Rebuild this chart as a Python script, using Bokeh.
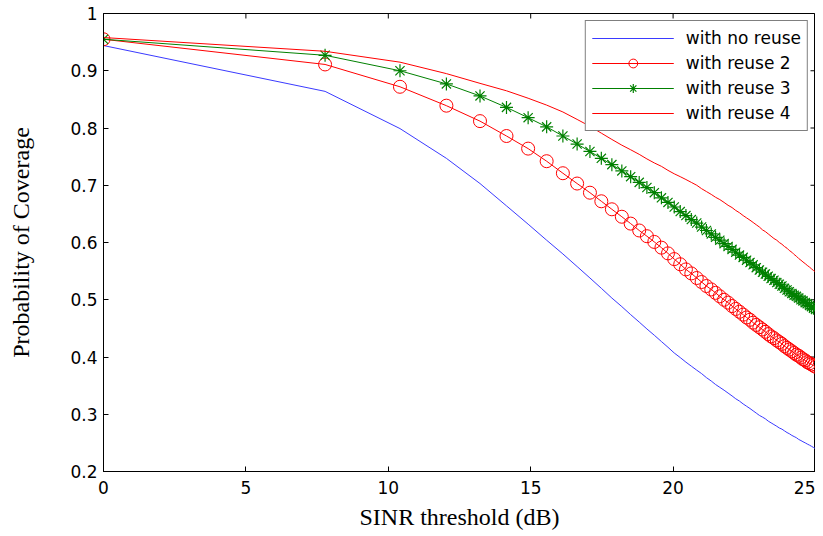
import math
from bokeh.plotting import figure
from bokeh.models import FixedTicker, Range1d, Legend, LegendItem
from bokeh.embed import file_html
from bokeh.resources import INLINE

# SINR threshold samples (dB)
sinr_db = [0.00, 7.78, 10.41, 12.04, 13.22, 14.15, 14.91, 15.56, 16.13, 16.63,
           17.08, 17.48, 17.85, 18.20, 18.51, 18.81, 19.08, 19.34, 19.59, 19.82,
           20.04, 20.25, 20.45, 20.64, 20.83, 21.00, 21.17, 21.34, 21.49, 21.64,
           21.79, 21.93, 22.07, 22.20, 22.33, 22.46, 22.58, 22.70, 22.81, 22.92,
           23.03, 23.14, 23.24, 23.34, 23.44, 23.54, 23.64, 23.73, 23.82, 23.91,
           24.00, 24.08, 24.17, 24.25, 24.33, 24.41, 24.49, 24.56, 24.64, 24.71,
           24.79, 24.86, 24.93, 25.00]

no_reuse = [0.944, 0.864, 0.799, 0.747, 0.703, 0.664, 0.632, 0.604, 0.580, 0.558,
            0.538, 0.520, 0.503, 0.488, 0.474, 0.461, 0.449, 0.438, 0.427, 0.417,
            0.407, 0.399, 0.391, 0.384, 0.377, 0.371, 0.364, 0.358, 0.352, 0.347,
            0.342, 0.337, 0.332, 0.327, 0.323, 0.318, 0.314, 0.310, 0.306, 0.302,
            0.298, 0.295, 0.292, 0.288, 0.285, 0.282, 0.279, 0.276, 0.274, 0.271,
            0.268, 0.266, 0.263, 0.261, 0.259, 0.256, 0.254, 0.252, 0.250, 0.248,
            0.246, 0.244, 0.242, 0.240]

reuse2 = [0.955, 0.911, 0.872, 0.839, 0.812, 0.786, 0.764, 0.742, 0.721, 0.703,
          0.687, 0.672, 0.658, 0.645, 0.633, 0.621, 0.611, 0.601, 0.591, 0.581,
          0.571, 0.562, 0.553, 0.546, 0.538, 0.531, 0.524, 0.518, 0.512, 0.506,
          0.500, 0.495, 0.489, 0.484, 0.479, 0.474, 0.469, 0.465, 0.460, 0.456,
          0.452, 0.448, 0.444, 0.440, 0.436, 0.433, 0.429, 0.426, 0.423, 0.419,
          0.416, 0.413, 0.410, 0.407, 0.404, 0.402, 0.399, 0.396, 0.394, 0.391,
          0.389, 0.387, 0.385, 0.383]

reuse3 = [0.955, 0.927, 0.900, 0.877, 0.856, 0.836, 0.818, 0.802, 0.786, 0.772,
          0.759, 0.747, 0.736, 0.725, 0.715, 0.705, 0.696, 0.687, 0.678, 0.670,
          0.662, 0.654, 0.647, 0.640, 0.634, 0.627, 0.621, 0.615, 0.609, 0.604,
          0.598, 0.593, 0.588, 0.583, 0.578, 0.574, 0.569, 0.565, 0.561, 0.556,
          0.552, 0.548, 0.545, 0.541, 0.537, 0.534, 0.530, 0.527, 0.524, 0.520,
          0.517, 0.514, 0.511, 0.508, 0.506, 0.503, 0.500, 0.498, 0.495, 0.493,
          0.490, 0.488, 0.485, 0.483]

reuse4 = [0.958, 0.934, 0.915, 0.895, 0.878, 0.865, 0.852, 0.840, 0.828, 0.815,
          0.803, 0.791, 0.780, 0.770, 0.762, 0.754, 0.746, 0.739, 0.733, 0.726,
          0.720, 0.715, 0.710, 0.705, 0.700, 0.694, 0.689, 0.684, 0.679, 0.675,
          0.670, 0.665, 0.661, 0.656, 0.652, 0.647, 0.643, 0.639, 0.635, 0.631,
          0.627, 0.622, 0.619, 0.615, 0.611, 0.607, 0.604, 0.600, 0.597, 0.593,
          0.590, 0.586, 0.583, 0.579, 0.576, 0.572, 0.569, 0.566, 0.563, 0.560,
          0.557, 0.554, 0.551, 0.549]

x_ticks = [0, 5, 10, 15, 20, 25]
y_ticks = [0.2, 0.3, 0.4, 0.5, 0.6, 0.7, 0.8, 0.9, 1.0]
series_labels = ["with no reuse", "with reuse 2", "with reuse 3", "with reuse 4"]

TICK_FONT = "DejaVu Sans"
LABEL_FONT = "Liberation Serif"

X0, X1 = 0, 25
Y0, Y1 = 0.2, 1.0

p = figure(frame_width=712, frame_height=458,
           x_range=Range1d(X0, X1), y_range=Range1d(Y0, Y1),
           output_backend="svg", toolbar_location=None,
           min_border_left=103, min_border_right=0,
           min_border_top=13, min_border_bottom=60,
           x_axis_label="SINR threshold (dB)",
           y_axis_label="Probability of Coverage")

p.xgrid.visible = False
p.ygrid.visible = False
p.outline_line_color = "black"
p.outline_line_width = 1
p.background_fill_color = "white"
p.border_fill_color = "white"

for ax, ticks in ((p.xaxis[0], x_ticks), (p.yaxis[0], y_ticks)):
    ax.ticker = FixedTicker(ticks=ticks)
    ax.major_tick_in = 5
    ax.major_tick_out = 0
    ax.minor_tick_in = 0
    ax.minor_tick_out = 0
    ax.axis_line_color = "black"
    ax.major_tick_line_color = "black"
    ax.major_label_text_font = TICK_FONT
    ax.major_label_text_font_size = "17px"
    ax.major_label_text_color = "black"
    ax.axis_label_text_font = LABEL_FONT
    ax.axis_label_text_font_size = "24px"
    ax.axis_label_text_font_style = "normal"
    ax.axis_label_text_color = "black"

p.xaxis[0].major_label_standoff = 9
p.xaxis[0].axis_label_standoff = 7
p.yaxis[0].major_label_standoff = 6
p.yaxis[0].axis_label_standoff = 33

# inward ticks on the top and right edges of the box (outer half clipped by the frame)
p.scatter(x_ticks, [Y1] * len(x_ticks), marker="dash", size=10,
          angle=math.pi / 2, line_color="black", line_width=1)
p.scatter([X1] * len(y_ticks), y_ticks, marker="dash", size=10,
          line_color="black", line_width=1)

r_blue = p.line(sinr_db, no_reuse, line_color="#3a3aff", line_width=1)
r_red2 = p.line(sinr_db, reuse2, line_color="red", line_width=1)
r_red2m = p.scatter(sinr_db, reuse2, marker="circle", size=13,
                    line_color="red", fill_color=None, line_width=1)
r_green = p.line(sinr_db, reuse3, line_color="green", line_width=1)
r_greenm = p.scatter(sinr_db, reuse3, marker="asterisk", size=13,
                     line_color="green", line_width=1.2)
r_red4 = p.line(sinr_db, reuse4, line_color="red", line_width=1)

legend = Legend(items=[
    LegendItem(label=series_labels[0], renderers=[r_blue]),
    LegendItem(label=series_labels[1], renderers=[r_red2, r_red2m]),
    LegendItem(label=series_labels[2], renderers=[r_green, r_greenm]),
    LegendItem(label=series_labels[3], renderers=[r_red4]),
], location="top_right")
legend.margin = 7
legend.padding = 6
legend.spacing = 3
legend.glyph_width = 82
legend.glyph_height = 22
legend.label_height = 22
legend.label_standoff = 12
legend.label_text_font = TICK_FONT
legend.label_text_font_size = "17px"
legend.label_text_color = "black"
legend.border_line_color = "black"
legend.border_line_width = 1
legend.background_fill_color = "white"
legend.background_fill_alpha = 1.0
p.add_layout(legend)

open("out.html", "w").write(file_html(p, INLINE))
